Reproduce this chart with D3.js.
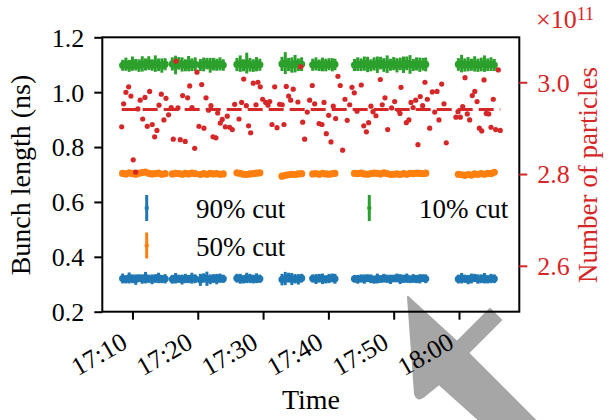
<!DOCTYPE html>
<html>
<head>
<meta charset="utf-8">
<script src="https://cdn.jsdelivr.net/npm/d3@7"></script>
<style>
  body { margin: 0; background: #fff; }
</style>
</head>
<body>
<div id="main"></div>
<script>
// times are minutes after 17:00
var bunchTimes = [
  8.5, 9.0, 9.5, 10.0, 10.5, 11.0, 11.5, 12.0, 12.5, 13.0, 13.5, 14.0, 14.5, 15.0,
  16.1, 16.6, 17.1, 17.6, 18.1, 18.6, 19.1, 19.6,
  20.4, 20.9, 21.4, 21.9, 22.4, 22.9, 23.4, 23.9,
  26.0, 26.5, 27.0, 27.5, 28.0, 28.5, 29.0, 29.5,
  32.9, 33.4, 33.9, 34.4, 34.9, 35.4, 35.9,
  37.6, 38.1, 38.6, 39.1, 39.6, 40.1, 40.6, 41.0,
  44.0, 44.5, 45.0, 45.5, 46.0, 46.5, 47.0, 47.5, 48.0, 48.5, 49.0, 49.5, 50.0, 50.5, 51.0, 51.5, 52.0, 52.5, 53.0, 53.5, 54.0, 54.5, 54.9,
  59.9, 60.4, 60.9, 61.4, 61.9, 62.4, 62.9, 63.4, 63.9, 64.4, 64.9, 65.4
];

var cut90 = [
  0.321, 0.318, 0.323, 0.320, 0.317, 0.322, 0.319, 0.324, 0.320, 0.318, 0.321, 0.323, 0.319, 0.320,
  0.318, 0.322, 0.320, 0.317, 0.321, 0.319, 0.322, 0.320,
  0.316, 0.323, 0.320, 0.318, 0.321, 0.319, 0.322, 0.320,
  0.322, 0.320, 0.318, 0.323, 0.321, 0.319, 0.322, 0.320,
  0.317, 0.321, 0.324, 0.319, 0.320, 0.318, 0.322,
  0.321, 0.319, 0.322, 0.320, 0.318, 0.321, 0.323, 0.320,
  0.320, 0.318, 0.321, 0.319, 0.322, 0.320, 0.317, 0.321, 0.319, 0.322, 0.320, 0.318, 0.321, 0.323, 0.319, 0.320, 0.322, 0.318, 0.321, 0.319, 0.320, 0.322, 0.320,
  0.319, 0.322, 0.320, 0.317, 0.321, 0.323, 0.319, 0.320, 0.322, 0.318, 0.321, 0.320
];
var cut90Err = [
  0.018, 0.015, 0.020, 0.016, 0.019, 0.014, 0.017, 0.021, 0.015, 0.018, 0.016, 0.019, 0.015, 0.017,
  0.016, 0.019, 0.015, 0.018, 0.017, 0.015, 0.020, 0.016,
  0.022, 0.017, 0.026, 0.018, 0.016, 0.019, 0.017, 0.015,
  0.016, 0.018, 0.015, 0.019, 0.017, 0.016, 0.018, 0.015,
  0.021, 0.024, 0.018, 0.022, 0.017, 0.019, 0.016,
  0.015, 0.018, 0.016, 0.019, 0.015, 0.017, 0.016, 0.018,
  0.014, 0.016, 0.015, 0.017, 0.014, 0.016, 0.015, 0.018, 0.014, 0.016, 0.015, 0.017, 0.014, 0.016, 0.018, 0.015, 0.017, 0.014, 0.016, 0.015, 0.017, 0.014, 0.016,
  0.016, 0.019, 0.015, 0.017, 0.018, 0.015, 0.017, 0.016, 0.019, 0.015, 0.017, 0.016
];

var cut50 = [
  0.704, 0.702, 0.706, 0.703, 0.701, 0.705, 0.707, 0.709, 0.704, 0.702, 0.703, 0.705, 0.701, 0.703,
  0.702, 0.704, 0.703, 0.701, 0.704, 0.702, 0.705, 0.703,
  0.700, 0.703, 0.701, 0.704, 0.702, 0.703, 0.701, 0.702,
  0.706, 0.704, 0.701, 0.700, 0.702, 0.703, 0.705, 0.706,
  0.694, 0.697, 0.699, 0.701, 0.700, 0.702, 0.703,
  0.702, 0.703, 0.701, 0.704, 0.702, 0.701, 0.703, 0.704,
  0.704, 0.703, 0.705, 0.702, 0.701, 0.703, 0.705, 0.704, 0.702, 0.706, 0.703, 0.700, 0.701, 0.702, 0.700, 0.703, 0.701, 0.704, 0.703, 0.705, 0.704, 0.703, 0.705,
  0.701, 0.699, 0.697, 0.700, 0.698, 0.702, 0.700, 0.703, 0.701, 0.704, 0.703, 0.708
];
var cut50Err = [
  0.006, 0.005, 0.007, 0.005, 0.006, 0.005, 0.006, 0.005, 0.007, 0.005, 0.006, 0.005, 0.006, 0.005,
  0.005, 0.006, 0.005, 0.007, 0.005, 0.006, 0.005, 0.006,
  0.006, 0.005, 0.007, 0.005, 0.006, 0.005, 0.006, 0.005,
  0.005, 0.006, 0.005, 0.007, 0.005, 0.006, 0.005, 0.006,
  0.008, 0.007, 0.006, 0.005, 0.006, 0.005, 0.006,
  0.005, 0.006, 0.005, 0.006, 0.005, 0.007, 0.005, 0.006,
  0.005, 0.006, 0.005, 0.006, 0.005, 0.007, 0.005, 0.006, 0.005, 0.006, 0.005, 0.006, 0.005, 0.007, 0.005, 0.006, 0.005, 0.006, 0.005, 0.006, 0.005, 0.006, 0.005,
  0.006, 0.007, 0.006, 0.005, 0.007, 0.006, 0.005, 0.006, 0.005, 0.006, 0.005, 0.006
];

var cut10 = [
  1.098, 1.102, 1.096, 1.104, 1.100, 1.097, 1.103, 1.101, 1.106, 1.099, 1.104, 1.100, 1.097, 1.102,
  1.103, 1.099, 1.105, 1.101, 1.098, 1.104, 1.100, 1.102,
  1.099, 1.101, 1.104, 1.098, 1.102, 1.100, 1.103, 1.099,
  1.101, 1.104, 1.098, 1.106, 1.100, 1.097, 1.102, 1.100,
  1.103, 1.106, 1.101, 1.099, 1.104, 1.100, 1.102,
  1.100, 1.103, 1.098, 1.101, 1.099, 1.102, 1.100, 1.101,
  1.099, 1.102, 1.100, 1.104, 1.101, 1.098, 1.103, 1.100, 1.106, 1.099, 1.102, 1.100, 1.104, 1.098, 1.103, 1.100, 1.105, 1.101, 1.099, 1.103, 1.100, 1.102, 1.101,
  1.101, 1.104, 1.099, 1.102, 1.100, 1.103, 1.098, 1.101, 1.104, 1.100, 1.102, 1.099
];
var cut10Err = [
  0.020, 0.024, 0.022, 0.026, 0.021, 0.023, 0.028, 0.022, 0.025, 0.021, 0.030, 0.023, 0.026, 0.022,
  0.024, 0.034, 0.023, 0.026, 0.022, 0.028, 0.023, 0.025,
  0.022, 0.025, 0.021, 0.027, 0.023, 0.022, 0.024, 0.021,
  0.024, 0.030, 0.022, 0.038, 0.025, 0.023, 0.026, 0.022,
  0.026, 0.040, 0.024, 0.028, 0.032, 0.023, 0.025,
  0.022, 0.024, 0.021, 0.025, 0.023, 0.022, 0.024, 0.021,
  0.022, 0.025, 0.023, 0.026, 0.028, 0.022, 0.024, 0.030, 0.023, 0.025, 0.032, 0.022, 0.024, 0.026, 0.023, 0.030, 0.025, 0.034, 0.022, 0.024, 0.026, 0.023, 0.025,
  0.023, 0.032, 0.024, 0.026, 0.022, 0.028, 0.024, 0.025, 0.030, 0.023, 0.025, 0.022
];

var particleTimes = [
  8.35, 8.65, 9.00, 9.42, 9.77, 10.12, 10.49, 10.84, 11.19, 11.56,
  11.91, 12.27, 12.63, 13.03, 13.40, 13.75, 14.06, 14.41, 14.82, 15.13,
  15.54, 15.94, 16.25, 16.66, 16.97, 17.32, 17.69, 18.09, 18.45, 18.76,
  19.11, 19.53, 19.88, 20.18, 20.60, 20.95, 21.26, 21.67, 22.02, 22.33,
  22.79, 23.05, 23.45, 23.75, 24.21, 24.52, 24.89, 25.28, 25.65, 26.31,
  26.72, 27.03, 27.43, 27.79, 28.10, 28.50, 28.91, 29.22, 29.57, 29.94,
  30.40, 30.75, 31.01, 31.36, 31.78, 32.13, 32.54, 32.94, 33.20, 33.55,
  33.92, 34.23, 34.62, 35.34, 35.76, 36.06, 36.37, 36.77, 37.14, 37.53,
  37.90, 38.56, 39.02, 39.33, 39.68, 40.05, 40.40, 40.75, 41.12, 41.47,
  41.82, 42.19, 42.54, 42.89, 43.26, 43.61, 43.97, 44.38, 45.04, 45.41,
  45.81, 46.17, 46.52, 46.83, 47.29, 47.95, 48.25, 48.67, 49.08, 49.69,
  50.15, 50.77, 50.97, 51.12, 51.93, 52.34, 52.65, 52.96, 53.37, 53.72,
  54.07, 54.44, 54.79, 55.15, 55.51, 55.91, 56.28, 56.63, 56.94, 57.35,
  57.70, 58.05, 59.54, 59.85, 60.20, 60.57, 60.92, 61.27, 61.64, 62.04,
  62.41, 62.76, 63.11, 63.48, 63.83, 64.18, 64.55, 64.90, 65.25, 65.62,
  66.02, 66.32
];
// number of particles, units of 1e11
var particles = [
  2.903, 2.953, 2.978, 2.990, 2.970, 2.831, 2.804, 2.942, 2.961, 2.920,
  2.967, 2.904, 2.980, 2.908, 2.881, 2.895, 2.950, 2.974, 2.918, 2.965,
  2.929, 2.945, 2.876, 3.046, 2.944, 2.875, 2.971, 2.871, 2.966, 2.992,
  2.945, 2.856, 3.022, 2.904, 2.995, 2.900, 2.966, 2.939, 2.949, 2.881,
  2.879, 2.933, 2.911, 2.919, 2.903, 2.926, 2.902, 2.897, 2.952, 2.920,
  2.956, 3.007, 2.949, 2.905, 2.890, 2.998, 2.951, 3.000, 2.990, 2.963,
  2.956, 2.950, 2.958, 2.908, 2.990, 2.901, 2.952, 2.951, 2.908, 2.991,
  2.970, 2.961, 2.985, 2.957, 3.034, 2.913, 2.876, 2.935, 2.961, 2.993,
  2.953, 2.910, 2.908, 2.956, 2.888, 2.928, 2.870, 2.948, 2.921, 3.013,
  2.993, 2.852, 2.963, 2.917, 2.951, 2.989, 2.977, 2.937, 2.994, 2.905,
  2.892, 2.912, 2.948, 2.936, 2.927, 3.006, 2.951, 2.966, 2.897, 2.944,
  2.958, 2.939, 2.932, 2.989, 2.912, 2.918, 2.956, 2.945, 2.961, 2.864,
  2.969, 2.949, 3.000, 2.963, 2.900, 2.979, 2.935, 2.980, 2.918, 2.996,
  2.953, 2.868, 2.924, 2.936, 2.924, 2.947, 3.010, 2.931, 2.918, 2.971,
  2.980, 2.958, 2.900, 2.894, 3.005, 2.932, 2.931, 2.902, 2.963, 2.897,
  3.027, 2.895
];

var seriesNames = ["90% cut", "50% cut", "10% cut"];
var leftTicks = [0.2, 0.4, 0.6, 0.8, 1.0, 1.2];
var rightTicks = [2.6, 2.8, 3.0];

var W = 616, H = 420;
var x0 = 102.3, x1 = 519.3, yTop = 37.3, yBot = 311.7;
var RED = "#d62728";
var FONT = "'Liberation Serif', 'DejaVu Serif', 'Times New Roman', serif";

function toDate(m) { return new Date(2021, 0, 1, 17, 0, Math.round(m * 60)); }

var x = d3.scaleTime()
  .domain([toDate(5.375), toDate(69.23)])
  .range([x0, x1]);
var y = d3.scaleLinear().domain([0.2, 1.2]).range([yBot, yTop]);
var y2 = d3.scaleLinear().domain([2.5, 3.098]).range([yBot, yTop]);

var svg = d3.select("#main").append("svg")
  .attr("width", W).attr("height", H)
  .attr("font-family", FONT)
  .style("font-family", FONT);

// grey arrow overlay (drawn first, text sits on top)
svg.append("path")
  .attr("d", "M408,297 L415,394 Q417,401 423,397 L439,384 L488,428 L543,428 L468,353 L501,320 L490,309 L457,342 Z")
  .attr("fill", "#a6a6a6").attr("stroke", "#a6a6a6")
  .attr("stroke-width", 2).attr("stroke-linejoin", "round");

var series = [
  { name: seriesNames[0], vals: cut90, errs: cut90Err, color: "#1f77b4" },
  { name: seriesNames[1], vals: cut50, errs: cut50Err, color: "#ff7f0e" },
  { name: seriesNames[2], vals: cut10, errs: cut10Err, color: "#2ca02c" }
];

series.forEach(function(s) {
  var pts = bunchTimes.map(function(t, i) {
    return { t: toDate(t), v: s.vals[i], e: s.errs[i] };
  });
  var g = svg.append("g");
  g.selectAll("line").data(pts).enter().append("line")
    .attr("x1", d => x(d.t)).attr("x2", d => x(d.t))
    .attr("y1", d => y(d.v - d.e)).attr("y2", d => y(d.v + d.e))
    .attr("stroke", s.color).attr("stroke-width", 3);
  g.selectAll("circle").data(pts).enter().append("circle")
    .attr("cx", d => x(d.t)).attr("cy", d => y(d.v))
    .attr("r", 3.6).attr("fill", s.color);
});

// particles on right axis
var pdata = particleTimes.map((t, i) => ({ t: toDate(t), v: particles[i] }));
var meanN = d3.mean(particles);
var ext = d3.extent(particleTimes);
svg.append("line")
  .attr("x1", x(toDate(ext[0]))).attr("x2", x(toDate(ext[1])))
  .attr("y1", y2(meanN)).attr("y2", y2(meanN))
  .attr("stroke", RED).attr("stroke-width", 3)
  .attr("stroke-dasharray", "15,6");
svg.append("g").selectAll("circle").data(pdata).enter().append("circle")
  .attr("cx", d => x(d.t)).attr("cy", d => y2(d.v))
  .attr("r", 2.6).attr("fill", RED);

// frame
svg.append("rect")
  .attr("x", x0).attr("y", yTop).attr("width", x1 - x0).attr("height", yBot - yTop)
  .attr("fill", "none").attr("stroke", "#000").attr("stroke-width", 2);

// axes
var xAxis = d3.axisBottom(x)
  .tickValues([10, 20, 30, 40, 50, 60].map(toDate))
  .tickFormat(d3.timeFormat("%H:%M"))
  .tickSize(8);
var gx = svg.append("g").attr("transform", "translate(0," + yBot + ")").call(xAxis);
gx.attr("font-family", null);
gx.select(".domain").remove();
gx.selectAll(".tick line").attr("stroke", "#000").attr("stroke-width", 2);
gx.selectAll(".tick text")
  .attr("font-size", 26).attr("fill", "#000")
  .attr("text-anchor", "end")
  .attr("y", 0).attr("dy", 0)
  .attr("transform", "translate(-4," + (347 - yBot) + ") rotate(-30)");

var yAxis = d3.axisLeft(y).tickValues(leftTicks).tickFormat(d3.format(".1f")).tickSize(8).tickPadding(10);
var gy = svg.append("g").attr("transform", "translate(" + x0 + ",0)").call(yAxis);
gy.attr("font-family", null);
gy.select(".domain").remove();
gy.selectAll(".tick line").attr("stroke", "#000").attr("stroke-width", 2);
gy.selectAll(".tick text").attr("font-size", 26).attr("fill", "#000").attr("dy", "0.34em");

var y2Axis = d3.axisRight(y2).tickValues(rightTicks).tickFormat(d3.format(".1f")).tickSize(8).tickPadding(10);
var gy2 = svg.append("g").attr("transform", "translate(" + x1 + ",0)").call(y2Axis);
gy2.attr("font-family", null);
gy2.select(".domain").remove();
gy2.selectAll(".tick line").attr("stroke", RED).attr("stroke-width", 2);
gy2.selectAll(".tick text").attr("font-size", 26).attr("fill", RED).attr("dy", "0.34em");

// multiplier
var mult = svg.append("text").attr("x", 536).attr("y", 28).attr("fill", RED).attr("font-size", 26);
mult.append("tspan").text("×10");
mult.append("tspan").attr("font-size", 18).attr("dy", -8).text("11");

// axis labels
svg.append("text")
  .attr("transform", "translate(30,175) rotate(-90)")
  .attr("text-anchor", "middle").attr("font-size", 28).attr("fill", "#000")
  .text("Bunch length (ns)");
svg.append("text")
  .attr("transform", "translate(597,175) rotate(-90)")
  .attr("text-anchor", "middle").attr("font-size", 27).attr("fill", RED)
  .text("Number of particles");
svg.append("text")
  .attr("x", 311).attr("y", 409)
  .attr("text-anchor", "middle").attr("font-size", 28).attr("fill", "#000")
  .text("Time");

// legend, two columns
var legendPos = [
  { hx: 146.7, cy: 208, tx: 196 },
  { hx: 146.7, cy: 245.5, tx: 196 },
  { hx: 369.3, cy: 208, tx: 419 }
];
series.forEach(function(s, i) {
  var p = legendPos[i];
  svg.append("line")
    .attr("x1", p.hx).attr("x2", p.hx)
    .attr("y1", p.cy - 13).attr("y2", p.cy + 13)
    .attr("stroke", s.color).attr("stroke-width", 3);
  svg.append("circle").attr("cx", p.hx).attr("cy", p.cy).attr("r", 2.2).attr("fill", s.color);
  svg.append("text")
    .attr("x", p.tx).attr("y", p.cy + 10)
    .attr("font-size", 27).attr("fill", "#000")
    .text(s.name);
});
</script>
</body>
</html>
